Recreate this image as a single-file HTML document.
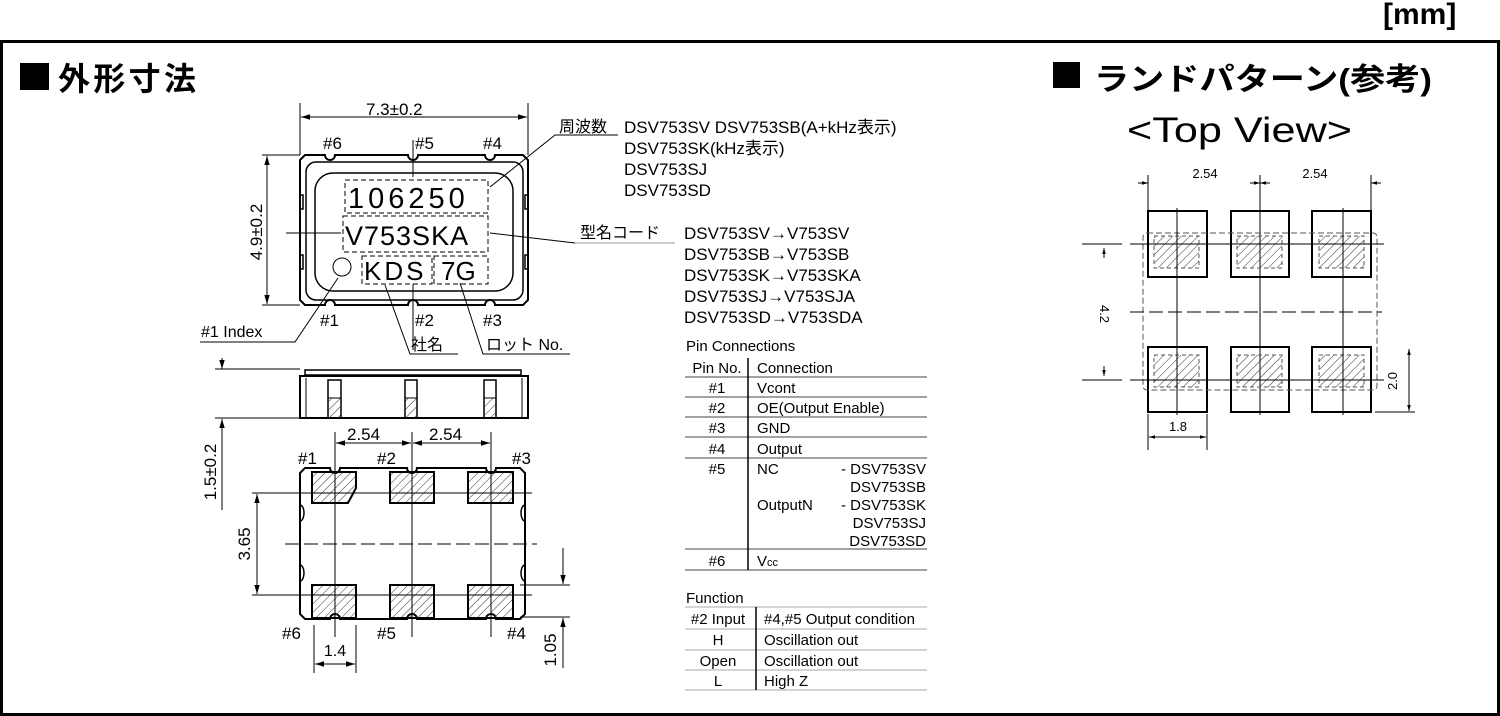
<!DOCTYPE html>
<html><head><meta charset="utf-8"><style>
html,body{margin:0;padding:0;background:#fff;width:1500px;height:716px;overflow:hidden}
svg{display:block}
text{font-family:"Liberation Sans","Noto Sans CJK JP",sans-serif;fill:#000}
</style></head><body>
<svg width="1500" height="716" viewBox="0 0 1500 716" xmlns="http://www.w3.org/2000/svg">
<defs>
<pattern id="h" patternUnits="userSpaceOnUse" width="6" height="6" patternTransform="rotate(45)">
<line x1="0" y1="0" x2="0" y2="6" stroke="#333" stroke-width="1"/>
</pattern>
<marker id="a" viewBox="0 0 10 10" refX="10" refY="5" markerWidth="9" markerHeight="9" orient="auto-start-reverse" markerUnits="userSpaceOnUse"><path d="M0,2 L10,5 L0,8 z" fill="#000"/></marker>
<marker id="s" viewBox="0 0 10 10" refX="10" refY="5" markerWidth="6" markerHeight="6" orient="auto-start-reverse" markerUnits="userSpaceOnUse"><path d="M0,2 L10,5 L0,8 z" fill="#000"/></marker>
</defs>
<rect x="1.5" y="41.5" width="1497" height="673" fill="none" stroke="#000" stroke-width="3"/>
<text x="1383" y="24" font-size="30" font-weight="bold">[mm]</text>

<rect x="20" y="63" width="29" height="27"/>
<text x="58" y="90" font-size="32" font-weight="bold" font-family="Noto Sans CJK JP" textLength="138">外形寸法</text>
<rect x="1053" y="62" width="27" height="26"/>
<text x="1094" y="90" font-size="31" font-weight="bold" font-family="Noto Sans CJK JP" textLength="338" lengthAdjust="spacingAndGlyphs">ランドパターン(参考)</text>
<text x="1127" y="142" font-size="35" textLength="225" lengthAdjust="spacingAndGlyphs">&lt;Top View&gt;</text>

<g stroke="#000" fill="none" stroke-width="1">
<!-- top view -->
<line x1="300" y1="103" x2="300" y2="155"/><line x1="528" y1="103" x2="528" y2="155"/>
<line x1="301" y1="117" x2="527" y2="117" marker-start="url(#a)" marker-end="url(#a)"/>
<line x1="262" y1="155" x2="300" y2="155"/><line x1="262" y1="305" x2="300" y2="305"/>
<line x1="267" y1="156" x2="267" y2="304" marker-start="url(#a)" marker-end="url(#a)"/>
<path stroke-width="2" d="M305,155 L325,155 A5,5 0 0 0 335,155 L408,155 A5,5 0 0 0 418,155 L485,155 A5,5 0 0 0 495,155 L523,155 L528,160 L528,300 L523,305 L495,305 A5,5 0 0 0 485,305 L418,305 A5,5 0 0 0 408,305 L335,305 A5,5 0 0 0 325,305 L305,305 L300,300 L300,160 Z"/>
<rect x="306" y="162" width="217" height="138" rx="10" stroke-width="1.5"/>
<rect x="315" y="173" width="198" height="118" rx="18" stroke-width="1.5"/>
<path d="M300,195 h3 v14 h-3 M300,255 h3 v14 h-3 M528,195 h-3 v14 h3 M528,255 h-3 v14 h3" stroke-width="1.5"/>
<g stroke-dasharray="5,3">
<rect x="345" y="180" width="143" height="33"/>
<rect x="343" y="216" width="145" height="36"/>
<rect x="362" y="256" width="70" height="28"/>
<rect x="434" y="256" width="54" height="28"/>
</g>
<line x1="286" y1="233" x2="341" y2="233"/><line x1="490" y1="233" x2="575" y2="243"/>
<line x1="413" y1="140" x2="413" y2="177"/><line x1="413" y1="284" x2="413" y2="350"/>
<circle cx="342" cy="267" r="9"/>
<path d="M200,342 L295,342 L338,278"/>
<path d="M458,354 L410,354 L385,285"/>
<path d="M570,354 L483,354 L460,283"/>
<path d="M490,187 L555,135 L618,135"/>
<line x1="575" y1="243" x2="675" y2="243" stroke="#999"/>

<!-- side view -->
<line x1="215" y1="369" x2="300" y2="369"/><line x1="215" y1="418" x2="300" y2="418"/>
<line x1="222" y1="358" x2="222" y2="369" marker-end="url(#a)"/>
<line x1="222" y1="510" x2="222" y2="419" marker-end="url(#a)"/>
<rect x="305" y="370" width="216" height="5" stroke-width="1.5"/>
<rect x="300" y="376" width="228" height="42" stroke-width="2"/>
<line x1="306" y1="378" x2="306" y2="418"/><line x1="522" y1="378" x2="522" y2="418"/>
<rect x="328" y="380" width="13" height="38" stroke-width="1.5"/>
<rect x="405" y="380" width="12" height="38" stroke-width="1.5"/>
<rect x="484" y="380" width="12" height="38" stroke-width="1.5"/>
<rect x="328" y="398" width="13" height="20" fill="url(#h)"/>
<rect x="405" y="398" width="12" height="20" fill="url(#h)"/>
<rect x="484" y="398" width="12" height="20" fill="url(#h)"/>

<!-- bottom view -->
<line x1="335" y1="432" x2="335" y2="470"/><line x1="412" y1="432" x2="412" y2="470"/><line x1="491" y1="432" x2="491" y2="470"/>
<line x1="336" y1="443" x2="411" y2="443" marker-start="url(#a)" marker-end="url(#a)"/>
<line x1="413" y1="443" x2="490" y2="443" marker-start="url(#a)" marker-end="url(#a)"/>
<path stroke-width="2" d="M305,468 L330,468 A5,5 0 0 0 340,468 L407,468 A5,5 0 0 0 417,468 L486,468 A5,5 0 0 0 496,468 L520,468 L525,473 L525,614 L520,619 L496,619 A5,5 0 0 0 486,619 L417,619 A5,5 0 0 0 407,619 L340,619 A5,5 0 0 0 330,619 L305,619 L300,614 L300,473 Z"/>
<path d="M300,505 a4,8 0 0 1 0,16 M300,565 a4,8 0 0 1 0,16 M525,505 a4,8 0 0 0 0,16 M525,565 a4,8 0 0 0 0,16" stroke-width="1.5"/>
<g stroke-width="2" fill="url(#h)">
<path d="M312,472 h44 v16 l-8,15 h-36 z"/>
<rect x="390" y="472" width="44" height="31"/>
<rect x="468" y="472" width="45" height="31"/>
<rect x="312" y="585" width="44" height="33"/>
<rect x="390" y="585" width="44" height="33"/>
<rect x="468" y="585" width="45" height="33"/>
</g>
<line x1="335" y1="470" x2="335" y2="637"/><line x1="412" y1="470" x2="412" y2="637"/><line x1="491" y1="470" x2="491" y2="637"/>
<line x1="252" y1="493" x2="532" y2="493"/><line x1="252" y1="595" x2="532" y2="595"/>
<line x1="285" y1="544" x2="537" y2="544" stroke-dasharray="14,5"/>
<line x1="257" y1="494" x2="257" y2="594" marker-start="url(#a)" marker-end="url(#a)"/>
<line x1="314" y1="625" x2="314" y2="673"/><line x1="356" y1="625" x2="356" y2="673"/>
<line x1="315" y1="664" x2="355" y2="664" marker-start="url(#a)" marker-end="url(#a)"/>
<line x1="520" y1="585" x2="570" y2="585"/><line x1="520" y1="617" x2="570" y2="617"/>
<line x1="563" y1="548" x2="563" y2="584" marker-end="url(#a)"/>
<line x1="563" y1="668" x2="563" y2="618" marker-end="url(#a)"/>

<!-- tables -->
<g stroke="#444">
<line x1="685" y1="377" x2="927" y2="377"/><line x1="685" y1="397" x2="927" y2="397"/>
<line x1="685" y1="417" x2="927" y2="417"/><line x1="685" y1="437" x2="927" y2="437"/>
<line x1="685" y1="458" x2="927" y2="458"/><line x1="685" y1="549" x2="927" y2="549"/>
<line x1="685" y1="570" x2="927" y2="570"/>
<line x1="685" y1="629" x2="927" y2="629" stroke="#aaa"/><line x1="685" y1="650" x2="927" y2="650" stroke="#aaa"/>
<line x1="685" y1="670" x2="927" y2="670" stroke="#aaa"/><line x1="685" y1="690" x2="927" y2="690" stroke="#aaa"/>
<line x1="685" y1="607" x2="927" y2="607" stroke="#aaa"/>
</g>
<line x1="748" y1="358" x2="748" y2="570" stroke-width="1.5"/>
<line x1="756" y1="607" x2="756" y2="690" stroke-width="1.5"/>

<!-- land pattern -->
<line x1="1148" y1="175" x2="1148" y2="210"/><line x1="1371" y1="175" x2="1371" y2="210"/>
<line x1="1260" y1="175" x2="1260" y2="415"/>
<line x1="1138" y1="183" x2="1148" y2="183" marker-end="url(#s)"/>
<line x1="1250" y1="183" x2="1260" y2="183" marker-end="url(#s)"/>
<line x1="1270" y1="183" x2="1260" y2="183" marker-end="url(#s)"/>
<line x1="1381" y1="183" x2="1371" y2="183" marker-end="url(#s)"/>
<g stroke-width="2">
<rect x="1148" y="211" width="59" height="66"/><rect x="1231" y="211" width="58" height="66"/><rect x="1312" y="211" width="59" height="66"/>
<rect x="1148" y="347" width="59" height="65"/><rect x="1231" y="347" width="58" height="65"/><rect x="1312" y="347" width="59" height="65"/>
</g>
<g stroke-dasharray="4,3" stroke="#555" fill="url(#h)">
<rect x="1154" y="236" width="45" height="32"/><rect x="1237" y="236" width="45" height="32"/><rect x="1319" y="236" width="45" height="32"/>
<rect x="1154" y="355" width="45" height="32"/><rect x="1237" y="355" width="45" height="32"/><rect x="1319" y="355" width="45" height="32"/>
</g>
<rect x="1143" y="233" width="234" height="157" stroke-dasharray="6,3" stroke="#555" rx="4"/>
<line x1="1177" y1="208" x2="1177" y2="415"/><line x1="1343" y1="208" x2="1343" y2="415"/>
<line x1="1082" y1="244" x2="1122" y2="244"/><line x1="1130" y1="244" x2="1384" y2="244"/>
<line x1="1082" y1="380" x2="1122" y2="380"/><line x1="1130" y1="380" x2="1384" y2="380"/>
<line x1="1130" y1="312" x2="1382" y2="312" stroke-dasharray="14,5"/>
<line x1="1104" y1="258" x2="1104" y2="248" marker-end="url(#s)"/>
<line x1="1104" y1="366" x2="1104" y2="376" marker-end="url(#s)"/>
<line x1="1375" y1="412" x2="1415" y2="412"/>
<line x1="1409" y1="349" x2="1409" y2="411" marker-start="url(#s)" marker-end="url(#s)"/>
<line x1="1148" y1="414" x2="1148" y2="450"/><line x1="1207" y1="414" x2="1207" y2="450"/>
<line x1="1149" y1="437" x2="1206" y2="437" marker-start="url(#s)" marker-end="url(#s)"/>
</g>

<!-- top view texts -->
<text x="366" y="115" font-size="17">7.3±0.2</text>
<text x="323" y="149" font-size="17">#6</text><text x="415" y="149" font-size="17">#5</text><text x="483" y="149" font-size="17">#4</text>
<text transform="translate(262,232) rotate(-90)" text-anchor="middle" font-size="17">4.9±0.2</text>
<text x="348" y="208" font-size="29" letter-spacing="4">106250</text>
<text x="345" y="245" font-size="27" letter-spacing="1">V753SKA</text>
<text x="364" y="280" font-size="26" letter-spacing="3">KDS</text>
<text x="441" y="280" font-size="26">7G</text>
<text x="320" y="326" font-size="17">#1</text><text x="415" y="326" font-size="17">#2</text><text x="483" y="326" font-size="17">#3</text>
<text x="201" y="337" font-size="16">#1 Index</text>
<text x="411" y="350" font-size="16">社名</text>
<text x="486" y="350" font-size="16">ロット No.</text>
<text x="559" y="132" font-size="16">周波数</text>
<text x="624" y="133" font-size="17">DSV753SV DSV753SB(A+kHz表示)</text>
<text x="624" y="154" font-size="17">DSV753SK(kHz表示)</text>
<text x="624" y="175" font-size="17">DSV753SJ</text>
<text x="624" y="196" font-size="17">DSV753SD</text>
<text x="580" y="238" font-size="16">型名コード</text>
<text x="684" y="239" font-size="17">DSV753SV→V753SV</text>
<text x="684" y="260" font-size="17">DSV753SB→V753SB</text>
<text x="684" y="281" font-size="17">DSV753SK→V753SKA</text>
<text x="684" y="302" font-size="17">DSV753SJ→V753SJA</text>
<text x="684" y="323" font-size="17">DSV753SD→V753SDA</text>

<!-- side/bottom texts -->
<text transform="translate(216,472) rotate(-90)" text-anchor="middle" font-size="17">1.5±0.2</text>
<text x="347" y="440" font-size="17">2.54</text><text x="429" y="440" font-size="17">2.54</text>
<text x="298" y="464" font-size="17">#1</text><text x="377" y="464" font-size="17">#2</text><text x="512" y="464" font-size="17">#3</text>
<text transform="translate(250,544) rotate(-90)" text-anchor="middle" font-size="17">3.65</text>
<text x="282" y="639" font-size="17">#6</text><text x="377" y="639" font-size="17">#5</text><text x="507" y="639" font-size="17">#4</text>
<text x="335" y="656" text-anchor="middle" font-size="16">1.4</text>
<text transform="translate(556,650) rotate(-90)" text-anchor="middle" font-size="17">1.05</text>

<!-- table texts -->
<g font-size="15">
<text x="686" y="351">Pin Connections</text>
<text x="717" y="373" text-anchor="middle">Pin No.</text><text x="757" y="373">Connection</text>
<text x="717" y="393" text-anchor="middle">#1</text><text x="757" y="393">Vcont</text>
<text x="717" y="413" text-anchor="middle">#2</text><text x="757" y="413">OE(Output Enable)</text>
<text x="717" y="433" text-anchor="middle">#3</text><text x="757" y="433">GND</text>
<text x="717" y="454" text-anchor="middle">#4</text><text x="757" y="454">Output</text>
<text x="717" y="474" text-anchor="middle">#5</text><text x="757" y="474">NC</text>
<text x="926" y="474" text-anchor="end">- DSV753SV</text>
<text x="926" y="492" text-anchor="end">DSV753SB</text>
<text x="757" y="510">OutputN</text><text x="926" y="510" text-anchor="end">- DSV753SK</text>
<text x="926" y="528" text-anchor="end">DSV753SJ</text>
<text x="926" y="546" text-anchor="end">DSV753SD</text>
<text x="717" y="566" text-anchor="middle">#6</text><text x="757" y="566">V<tspan font-size="11">cc</tspan></text>
<text x="686" y="603">Function</text>
<text x="718" y="624" text-anchor="middle">#2 Input</text><text x="764" y="624">#4,#5 Output condition</text>
<text x="718" y="645" text-anchor="middle">H</text><text x="764" y="645">Oscillation out</text>
<text x="718" y="666" text-anchor="middle">Open</text><text x="764" y="666">Oscillation out</text>
<text x="718" y="686" text-anchor="middle">L</text><text x="764" y="686">High Z</text>
</g>

<!-- land texts -->
<g font-size="13">
<text x="1205" y="178" text-anchor="middle">2.54</text><text x="1315" y="178" text-anchor="middle">2.54</text>
<text transform="translate(1100,314) rotate(90)" text-anchor="middle">4.2</text>
<text transform="translate(1397,381) rotate(-90)" text-anchor="middle">2.0</text>
<text x="1178" y="431" text-anchor="middle">1.8</text>
</g>
</svg>
</body></html>
